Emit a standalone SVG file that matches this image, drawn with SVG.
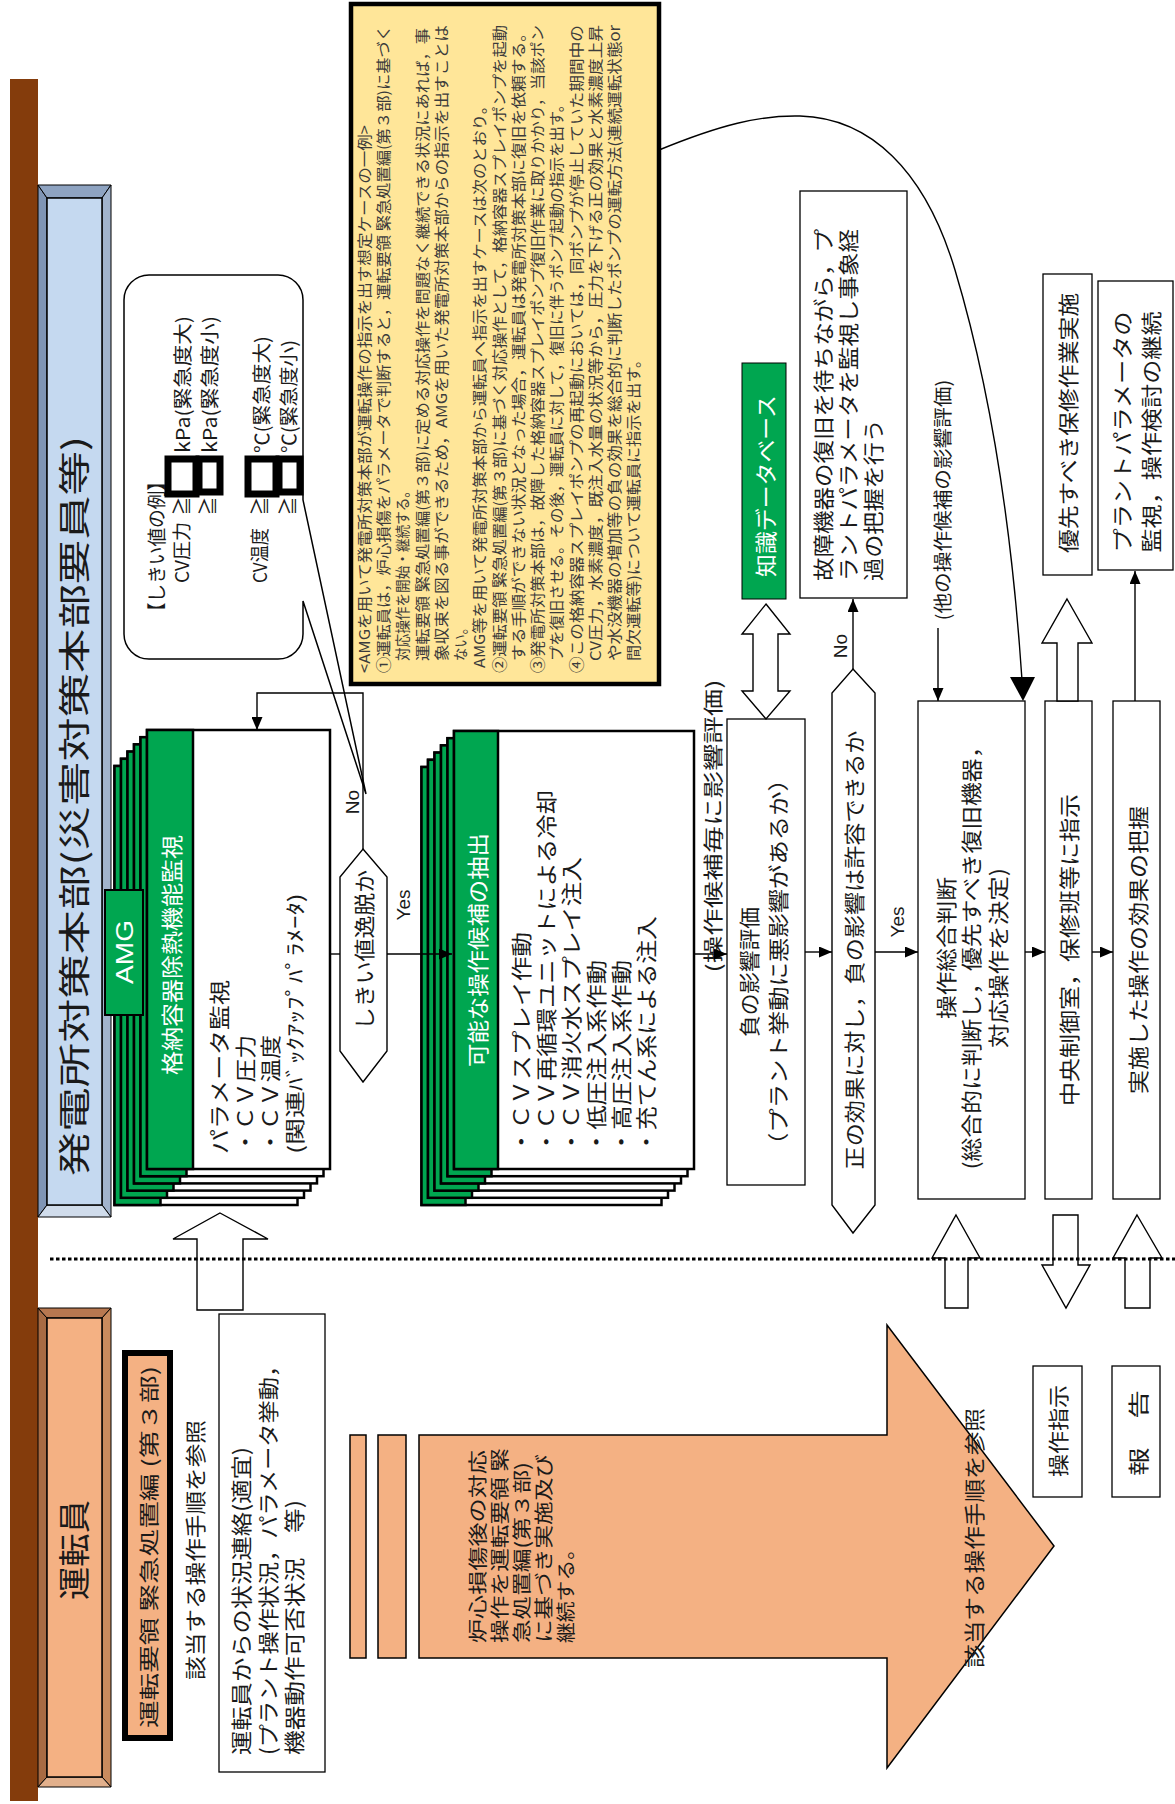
<svg xmlns="http://www.w3.org/2000/svg" width="1175" height="1804" viewBox="0 0 1175 1804">
<style>
text{font-family:"Noto Sans CJK JP","Noto Sans",sans-serif;fill:#1a1a1a;dominant-baseline:central}
.e{font-family:"Liberation Sans",Arial,sans-serif}
.w{fill:#fff}
.y{fill:#3b3b3b;font-size:15px}
.box{fill:#fff;stroke:#000;stroke-width:1.3}
.card{stroke:#000;stroke-width:2.5}
.g{fill:#00A650}
.ln{fill:none;stroke:#000;stroke-width:1.4}
.blk{fill:#fff;stroke:#000;stroke-width:1.4}
.pe{fill:#F4B183;stroke:#000;stroke-width:1.5}
.sq{fill:#fff;stroke:#000;stroke-width:7}
</style>
<defs>
<marker id="ah" viewBox="0 0 13 11" refX="13" refY="5.5" markerWidth="13" markerHeight="11" markerUnits="userSpaceOnUse" orient="auto"><path d="M0,0 L13,5.5 L0,11 z" fill="#000"/></marker>
<g id="mc"><rect class="card" fill="#fff" width="183" height="439"/><rect class="card g" width="46" height="439"/></g>
<g id="cc"><rect class="card" fill="#fff" width="240" height="438"/><rect class="card g" width="44" height="438"/></g>
</defs>

<rect id="bar" x="10" y="79" width="28" height="1722" fill="#843C0C"/>

<g id="hq">
<polygon points="38,185 47,198 47,1205 38,1217" fill="#7F95B5" stroke="#000" stroke-width="1"/>
<polygon points="38,185 111,185 102,198 47,198" fill="#8EA3C1" stroke="#000" stroke-width="1"/>
<polygon points="111,185 111,1217 102,1205 102,198" fill="#A2B4CD" stroke="#000" stroke-width="1"/>
<polygon points="38,1217 47,1205 102,1205 111,1217" fill="#D0DCEB" stroke="#000" stroke-width="1"/>
<rect x="47" y="198" width="55" height="1007" fill="#C5D9F0" stroke="#000" stroke-width="1.5"/>
<text font-size="32" transform="translate(72 806) rotate(-90)" text-anchor="middle" textLength="740" lengthAdjust="spacingAndGlyphs">発電所対策本部(災害対策本部要員等)</text>
</g>

<g id="op">
<polygon points="38,1308 47,1318 47,1777 38,1787" fill="#A86B43" stroke="#000" stroke-width="1"/>
<polygon points="38,1308 111,1308 102,1318 47,1318" fill="#B87850" stroke="#000" stroke-width="1"/>
<polygon points="111,1308 111,1787 102,1777 102,1318" fill="#C98B5E" stroke="#000" stroke-width="1"/>
<polygon points="38,1787 47,1777 102,1777 111,1787" fill="#E2B08C" stroke="#000" stroke-width="1"/>
<rect x="47" y="1318" width="55" height="459" fill="#F4B183" stroke="#000" stroke-width="1.5"/>
<text font-size="32" transform="translate(72 1550) rotate(-90)" text-anchor="middle" textLength="100" lengthAdjust="spacingAndGlyphs">運転員</text>
</g>

<g id="callout">
<path d="M149,275 H278 A25,25 0 0 1 303,300 V500 L366,794 L303,601 V634 A25,25 0 0 1 278,659 H149 A25,25 0 0 1 124,634 V300 A25,25 0 0 1 149,275 Z" fill="#fff" stroke="#000" stroke-width="1.5"/>
<text font-size="19" transform="translate(155 621) rotate(-90)" textLength="149" lengthAdjust="spacingAndGlyphs">【しきい値の例】</text>
<text font-size="19" transform="translate(180 583) rotate(-90)" textLength="61" lengthAdjust="spacingAndGlyphs">CV圧力</text>
<text font-size="19" transform="translate(180 506) rotate(-90)" text-anchor="middle">≧</text>
<text font-size="19" transform="translate(181 453) rotate(-90)" textLength="137" lengthAdjust="spacingAndGlyphs">kPa(緊急度大)</text>
<text font-size="19" transform="translate(206 506) rotate(-90)" text-anchor="middle">≧</text>
<text font-size="19" transform="translate(208 453) rotate(-90)" textLength="137" lengthAdjust="spacingAndGlyphs">kPa(緊急度小)</text>
<text font-size="19" transform="translate(258 583) rotate(-90)" textLength="55" lengthAdjust="spacingAndGlyphs">CV温度</text>
<text font-size="19" transform="translate(258 506) rotate(-90)" text-anchor="middle">≧</text>
<text font-size="19" transform="translate(260 453) rotate(-90)" textLength="117" lengthAdjust="spacingAndGlyphs">℃(緊急度大)</text>
<text font-size="19" transform="translate(286 506) rotate(-90)" text-anchor="middle">≧</text>
<text font-size="19" transform="translate(287 453) rotate(-90)" textLength="113" lengthAdjust="spacingAndGlyphs">℃(緊急度小)</text>
<rect class="sq" x="168" y="459" width="28" height="35"/>
<rect class="sq" x="199" y="459" width="21" height="33"/>
<rect class="sq" x="248" y="459" width="28" height="35"/>
<rect class="sq" x="279" y="459" width="21" height="33"/>
</g>

<g id="note">
<rect x="351" y="4" width="308" height="680" fill="#FFE699" stroke="#000" stroke-width="4.5"/>
<text class="y" transform="translate(363 673) rotate(-90)" textLength="548" lengthAdjust="spacingAndGlyphs">&lt;AMGを用いて発電所対策本部が運転操作の指示を出す想定ケースの一例&gt;</text>
<text class="y" transform="translate(382 673) rotate(-90)" textLength="648" lengthAdjust="spacingAndGlyphs">①運転員は，炉心損傷をパラメータで判断すると，運転要領 緊急処置編(第３部)に基づく</text>
<text class="y" transform="translate(401 661) rotate(-90)" textLength="177" lengthAdjust="spacingAndGlyphs">対応操作を開始・継続する。</text>
<text class="y" transform="translate(421 661) rotate(-90)" textLength="633" lengthAdjust="spacingAndGlyphs">運転要領 緊急処置編(第３部)に定める対応操作を問題なく継続できる状況にあれば，事</text>
<text class="y" transform="translate(440 661) rotate(-90)" textLength="636" lengthAdjust="spacingAndGlyphs">象収束を図る事ができるため，AMGを用いた発電所対策本部からの指示を出すことは</text>
<text class="y" transform="translate(459 661) rotate(-90)" textLength="40" lengthAdjust="spacingAndGlyphs">ない。</text>
<text class="y" transform="translate(478 668) rotate(-90)" textLength="570" lengthAdjust="spacingAndGlyphs">AMG等を用いて発電所対策本部から運転員へ指示を出すケースは次のとおり。</text>
<text class="y" transform="translate(498 673) rotate(-90)" textLength="648" lengthAdjust="spacingAndGlyphs">②運転要領 緊急処置編(第３部)に基づく対応操作として，格納容器スプレイポンプを起動</text>
<text class="y" transform="translate(517 661) rotate(-90)" textLength="636" lengthAdjust="spacingAndGlyphs">する手順ができない状況となった場合，運転員は発電所対策本部に復旧を依頼する。</text>
<text class="y" transform="translate(536 673) rotate(-90)" textLength="648" lengthAdjust="spacingAndGlyphs">③発電所対策本部は，故障した格納容器スプレイポンプ復旧作業に取りかかり，当該ポン</text>
<text class="y" transform="translate(555 661) rotate(-90)" textLength="564" lengthAdjust="spacingAndGlyphs">プを復旧させる。その後，運転員に対して，復旧に伴うポンプ起動の指示を出す。</text>
<text class="y" transform="translate(575 673) rotate(-90)" textLength="648" lengthAdjust="spacingAndGlyphs">④この格納容器スプレイポンプの再起動においては，同ポンプが停止していた期間中の</text>
<text class="y" transform="translate(594 661) rotate(-90)" textLength="636" lengthAdjust="spacingAndGlyphs">CV圧力，水素濃度，既注入水量の状況等から，圧力を下げる正の効果と水素濃度上昇</text>
<text class="y" transform="translate(613 661) rotate(-90)" textLength="636" lengthAdjust="spacingAndGlyphs">や水没機器の増加等の負の効果を総合的に判断したポンプの運転方法(連続運転状態or</text>
<text class="y" transform="translate(632 661) rotate(-90)" textLength="309" lengthAdjust="spacingAndGlyphs">間欠運転等)について運転員に指示を出す。</text>
</g>

<g id="monitor">
<use href="#mc" x="114.5" y="766"/>
<use href="#mc" x="121" y="758.8"/>
<use href="#mc" x="127.5" y="751.6"/>
<use href="#mc" x="134" y="744.4"/>
<use href="#mc" x="140.5" y="737.2"/>
<use href="#mc" x="147" y="730"/>
<text class="w" font-size="22" transform="translate(170 955) rotate(-90)" text-anchor="middle" textLength="240" lengthAdjust="spacingAndGlyphs">格納容器除熱機能監視</text>
<text font-size="21" transform="translate(218 1154) rotate(-90)" textLength="174" lengthAdjust="spacingAndGlyphs">パラメータ監視</text>
<text font-size="21" transform="translate(244 1154) rotate(-90)" textLength="119" lengthAdjust="spacingAndGlyphs">・ＣＶ圧力</text>
<text font-size="21" transform="translate(269 1154) rotate(-90)" textLength="119" lengthAdjust="spacingAndGlyphs">・ＣＶ温度</text>
<text font-size="20" transform="translate(294 1154) rotate(-90)" textLength="261" lengthAdjust="spacingAndGlyphs">(関連ﾊﾞｯｸｱｯﾌﾟﾊﾟﾗﾒｰﾀ)</text>
</g>

<g id="amg">
<rect x="105" y="890" width="38" height="125" fill="#00A650" stroke="#000" stroke-width="2"/>
<text class="e w" font-size="24" transform="translate(124 952) rotate(-90)" text-anchor="middle" textLength="64" lengthAdjust="spacingAndGlyphs">AMG</text>
</g>

<g id="threshold">
<polygon points="363,849 387,877 387,1051 363,1082 340,1051 340,877" class="blk"/>
<text font-size="21" transform="translate(363 950) rotate(-90)" text-anchor="middle" textLength="160" lengthAdjust="spacingAndGlyphs">しきい値逸脱か</text>
</g>

<g id="candidates">
<use href="#cc" x="421.5" y="767"/>
<use href="#cc" x="428" y="759.8"/>
<use href="#cc" x="434.5" y="752.6"/>
<use href="#cc" x="441" y="745.4"/>
<use href="#cc" x="447.5" y="738.2"/>
<use href="#cc" x="454" y="731"/>
<text class="w" font-size="22" transform="translate(476 950) rotate(-90)" text-anchor="middle" textLength="234" lengthAdjust="spacingAndGlyphs">可能な操作候補の抽出</text>
<text font-size="21" transform="translate(520 1154) rotate(-90)" textLength="222" lengthAdjust="spacingAndGlyphs">・ＣＶスプレイ作動</text>
<text font-size="21" transform="translate(545 1154) rotate(-90)" textLength="364" lengthAdjust="spacingAndGlyphs">・ＣＶ再循環ユニットによる冷却</text>
<text font-size="21" transform="translate(570 1154) rotate(-90)" textLength="297" lengthAdjust="spacingAndGlyphs">・ＣＶ消火水スプレイ注入</text>
<text font-size="21" transform="translate(595 1154) rotate(-90)" textLength="194" lengthAdjust="spacingAndGlyphs">・低圧注入系作動</text>
<text font-size="21" transform="translate(620 1154) rotate(-90)" textLength="194" lengthAdjust="spacingAndGlyphs">・高圧注入系作動</text>
<text font-size="21" transform="translate(645 1154) rotate(-90)" textLength="238" lengthAdjust="spacingAndGlyphs">・充てん系による注入</text>
</g>

<g id="eval-label">
<text font-size="20" transform="translate(712 826) rotate(-90)" text-anchor="middle" textLength="293" lengthAdjust="spacingAndGlyphs">(操作候補毎に影響評価)</text>
</g>

<g id="neg">
<rect class="box" x="727" y="719" width="78" height="466"/>
<text font-size="21" transform="translate(748 972) rotate(-90)" text-anchor="middle" textLength="130" lengthAdjust="spacingAndGlyphs">負の影響評価</text>
<text font-size="21" transform="translate(777 962) rotate(-90)" text-anchor="middle" textLength="390" lengthAdjust="spacingAndGlyphs">（プラント挙動に悪影響があるか）</text>
</g>

<g id="kdb">
<rect x="742" y="363" width="44" height="236" fill="#00A650" stroke="#000" stroke-width="1"/>
<text class="w" font-size="22" transform="translate(764 486) rotate(-90)" text-anchor="middle" textLength="182" lengthAdjust="spacingAndGlyphs">知識データベース</text>
<polygon class="blk" points="766,604 790,634 778,634 778,691 790,691 766,719 742,691 753,691 753,634 742,634"/>
</g>

<g id="accept">
<polygon points="853,669 875,693 875,1205 853,1233 832,1205 832,693" class="blk"/>
<text font-size="21" transform="translate(853 950) rotate(-90)" text-anchor="middle" textLength="439" lengthAdjust="spacingAndGlyphs">正の効果に対し，負の影響は許容できるか</text>
</g>

<g id="wait">
<rect class="box" x="800" y="191" width="107" height="407"/>
<text font-size="21" transform="translate(822 581) rotate(-90)" textLength="352" lengthAdjust="spacingAndGlyphs">故障機器の復旧を待ちながら，プ</text>
<text font-size="21" transform="translate(847 581) rotate(-90)" textLength="352" lengthAdjust="spacingAndGlyphs">ラントパラメータを監視し事象経</text>
<text font-size="21" transform="translate(872 581) rotate(-90)" textLength="162" lengthAdjust="spacingAndGlyphs">過の把握を行う</text>
</g>

<g id="other-label">
<text font-size="19" transform="translate(941 500) rotate(-90)" text-anchor="middle" textLength="241" lengthAdjust="spacingAndGlyphs">(他の操作候補の影響評価)</text>
</g>

<g id="decide">
<rect class="box" x="918" y="701" width="107" height="498"/>
<text font-size="21" transform="translate(945 948) rotate(-90)" text-anchor="middle" textLength="142" lengthAdjust="spacingAndGlyphs">操作総合判断</text>
<text font-size="21" transform="translate(970 952) rotate(-90)" text-anchor="middle" textLength="435" lengthAdjust="spacingAndGlyphs">(総合的に判断し，優先すべき復旧機器，</text>
<text font-size="21" transform="translate(997 958) rotate(-90)" text-anchor="middle" textLength="180" lengthAdjust="spacingAndGlyphs">対応操作を決定)</text>
</g>

<g id="instruct">
<rect class="box" x="1045" y="701" width="47" height="498"/>
<text font-size="21" transform="translate(1068 950) rotate(-90)" text-anchor="middle" textLength="312" lengthAdjust="spacingAndGlyphs">中央制御室，保修班等に指示</text>
</g>

<g id="grasp">
<rect class="box" x="1113" y="701" width="47" height="498"/>
<text font-size="21" transform="translate(1137 950) rotate(-90)" text-anchor="middle" textLength="288" lengthAdjust="spacingAndGlyphs">実施した操作の効果の把握</text>
</g>

<g id="repair">
<rect class="box" x="1043" y="274" width="49" height="301"/>
<text font-size="21" transform="translate(1067 423) rotate(-90)" text-anchor="middle" textLength="260" lengthAdjust="spacingAndGlyphs">優先すべき保修作業実施</text>
</g>

<g id="continue">
<rect class="box" x="1098" y="281" width="75" height="289"/>
<text font-size="21" transform="translate(1121 432) rotate(-90)" text-anchor="middle" textLength="241" lengthAdjust="spacingAndGlyphs">プラントパラメータの</text>
<text font-size="21" transform="translate(1150 432) rotate(-90)" text-anchor="middle" textLength="241" lengthAdjust="spacingAndGlyphs">監視，操作検討の継続</text>
</g>

<g id="manual">
<rect x="125" y="1353" width="45" height="385" fill="#F4B183" stroke="#000" stroke-width="6"/>
<text font-size="20" transform="translate(148 1547) rotate(-90)" text-anchor="middle" textLength="362" lengthAdjust="spacingAndGlyphs">運転要領 緊急処置編 (第３部)</text>
<text font-size="21" transform="translate(194 1550) rotate(-90)" text-anchor="middle" textLength="260" lengthAdjust="spacingAndGlyphs">該当する操作手順を参照</text>
</g>

<g id="report-in">
<rect class="box" x="219" y="1314" width="106" height="458"/>
<text font-size="21" transform="translate(240 1755) rotate(-90)" textLength="308" lengthAdjust="spacingAndGlyphs">運転員からの状況連絡(適宜)</text>
<text font-size="21" transform="translate(267 1755) rotate(-90)" textLength="401" lengthAdjust="spacingAndGlyphs">(プラント操作状況，パラメータ挙動，</text>
<text font-size="21" transform="translate(293 1755) rotate(-90)" textLength="255" lengthAdjust="spacingAndGlyphs">機器動作可否状況　等)</text>
</g>

<g id="ops-flow">
<rect class="pe" x="350" y="1435" width="16" height="223"/>
<rect class="pe" x="378" y="1435" width="28" height="223"/>
<polygon class="pe" points="419,1435 887,1435 887,1325 1054,1546 887,1768 887,1658 419,1658"/>
<text font-size="19" transform="translate(476 1643) rotate(-90)" textLength="193" lengthAdjust="spacingAndGlyphs">炉心損傷後の対応</text>
<text font-size="19" transform="translate(498 1643) rotate(-90)" textLength="195" lengthAdjust="spacingAndGlyphs">操作を運転要領 緊</text>
<text font-size="19" transform="translate(520 1643) rotate(-90)" textLength="181" lengthAdjust="spacingAndGlyphs">急処置編(第３部)</text>
<text font-size="19" transform="translate(542 1643) rotate(-90)" textLength="189" lengthAdjust="spacingAndGlyphs">に基づき実施及び</text>
<text font-size="19" transform="translate(564 1643) rotate(-90)" textLength="104" lengthAdjust="spacingAndGlyphs">継続する。</text>
<text font-size="21" transform="translate(973 1538) rotate(-90)" text-anchor="middle" textLength="260" lengthAdjust="spacingAndGlyphs">該当する操作手順を参照</text>
</g>

<g id="cmd">
<rect class="box" x="1033" y="1366" width="49" height="131"/>
<text font-size="21" transform="translate(1057 1431) rotate(-90)" text-anchor="middle" textLength="92" lengthAdjust="spacingAndGlyphs">操作指示</text>
</g>
<g id="rep">
<rect class="box" x="1112" y="1366" width="48" height="131"/>
<text font-size="21" transform="translate(1137 1433) rotate(-90)" text-anchor="middle" textLength="86" lengthAdjust="spacingAndGlyphs">報　告</text>
</g>

<g id="block-arrows">
<polygon class="blk" points="1067,599 1092,643 1078,643 1078,701 1057,701 1057,643 1042,643"/>
<polygon class="blk" points="220,1213 268,1239 243,1239 243,1310 197,1310 197,1239 173,1239"/>
<polygon class="blk" points="956,1215 980,1258 968,1258 968,1308 945,1308 945,1258 932,1258"/>
<polygon class="blk" points="1053,1215 1078,1215 1078,1265 1090,1265 1066,1308 1042,1265 1053,1265"/>
<polygon class="blk" points="1137,1215 1162,1258 1150,1258 1150,1308 1125,1308 1125,1258 1113,1258"/>
</g>

<line id="divider" x1="50" y1="1259" x2="1175" y2="1259" stroke="#000" stroke-width="3" stroke-dasharray="3.5 2.5"/>

<g id="connectors">
<line class="ln" x1="330" y1="954" x2="340" y2="954"/>
<line class="ln" x1="387" y1="954" x2="452" y2="954" marker-end="url(#ah)"/>
<line class="ln" x1="694" y1="954" x2="727" y2="954" marker-end="url(#ah)"/>
<line class="ln" x1="805" y1="952" x2="832" y2="952" marker-end="url(#ah)"/>
<line class="ln" x1="875" y1="952" x2="918" y2="952" marker-end="url(#ah)"/>
<line class="ln" x1="1025" y1="952" x2="1045" y2="952" marker-end="url(#ah)"/>
<line class="ln" x1="1092" y1="952" x2="1113" y2="952" marker-end="url(#ah)"/>
<polyline class="ln" points="363,849 363,693 257,693 257,730" marker-end="url(#ah)"/>
<line class="ln" x1="853" y1="669" x2="853" y2="599" marker-end="url(#ah)"/>
<line class="ln" x1="938" y1="628" x2="938" y2="701" marker-end="url(#ah)"/>
<line class="ln" x1="1135" y1="701" x2="1135" y2="571" marker-end="url(#ah)"/>
<path class="ln" d="M659,150 C720,125 760,115 800,116 C870,118 925,170 955,270 C985,370 1010,500 1022,680"/>
<polygon points="1010,677 1035,677 1023,701" fill="#000"/>
<text class="e" font-size="19" transform="translate(352 802) rotate(-90)" text-anchor="middle">No</text>
<text class="e" font-size="19" transform="translate(403 905) rotate(-90)" text-anchor="middle">Yes</text>
<text class="e" font-size="19" transform="translate(840 646) rotate(-90)" text-anchor="middle">No</text>
<text class="e" font-size="19" transform="translate(897 922) rotate(-90)" text-anchor="middle">Yes</text>
</g>
</svg>
